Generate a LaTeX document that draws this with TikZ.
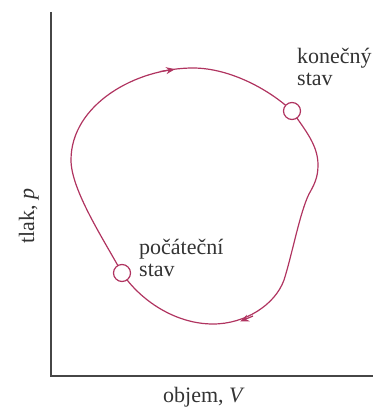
\documentclass[tikz,border=0pt]{standalone}
\usepackage{fontspec}
\setmainfont{Liberation Serif}
\usetikzlibrary{arrows.meta}
\definecolor{cyc}{RGB}{176,52,96}
\definecolor{axc}{RGB}{70,70,70}
\tikzset{
  axis/.style={draw=axc,line width=1.3pt},
  cycle/.style={draw=cyc,line width=1.2pt},
  tip/.style={draw=cyc,fill=cyc,line width=1.2pt,-{Stealth[length=9pt,width=7pt]}},
  state/.style={circle,draw=cyc,fill=white,line width=1.2pt,minimum size=17pt,inner sep=0pt},
  lbl/.style={font=\fontsize{22}{22}\selectfont,text=black!80,inner sep=0pt,align=left},
  axlbl/.style={font=\fontsize{22}{24}\selectfont,text=black!80,inner sep=0pt}
}
\begin{document}
\begin{tikzpicture}[x=1pt,y=-1pt]
\useasboundingbox (0,0) rectangle (373,409);
\coordinate (top) at (51,12);
\coordinate (orig) at (51,376);
\coordinate (right) at (373,376);
\draw[axis] (top) -- (orig) -- (right);
% key points of the cycle
\coordinate (P0) at (122,273);
\coordinate (L) at (71,160);
\coordinate (T) at (193,68);
\coordinate (F) at (292,111);
\coordinate (R) at (318,165);
\coordinate (K) at (309,194);
\coordinate (M) at (284,280);
\coordinate (B) at (213,324);
\draw[cycle] (P0) .. controls (104,240) and (71,190) .. (L)
  .. controls (71,105) and (135,68) .. (T)
  .. controls (230,68) and (270,90) .. (F)
  .. controls (305,130) and (318,145) .. (R)
  .. controls (318,178) and (314,185) .. (K)
  .. controls (300,212) and (292,255) .. (M)
  .. controls (275,305) and (245,324) .. (B)
  .. controls (175,324) and (140,300) .. (P0);
% arrowheads
\coordinate (ta) at (160,71.6);
\coordinate (tb) at (175,69.2);
\coordinate (ba) at (253,316);
\coordinate (bb) at (240,321.5);
\draw[tip] (ta) -- (tb);
\draw[tip] (ba) -- (bb);
\node[state] (init) at (P0) {};
\node[state] (fin) at (F) {};
\node[lbl,anchor=north west] (finlbl) at (297,48) {konečný\\stav};
\node[lbl,anchor=north west] (initlbl) at (139,239) {počáteční\\stav};
\node[axlbl,anchor=base] (xl) at (204,402) {objem, \textit{V}};
\node[axlbl,anchor=base,rotate=90] (yl) at (34,216) {tlak, \textit{p}};
\end{tikzpicture}
\end{document}
